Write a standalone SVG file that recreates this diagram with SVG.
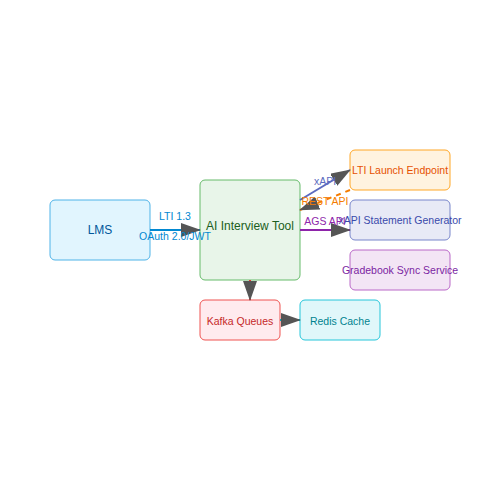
<svg xmlns="http://www.w3.org/2000/svg" width="500" height="500" viewBox="0 0 500 500">
<style>
text{font-family:"Liberation Sans",Arial,sans-serif;text-anchor:middle;dominant-baseline:central}
.n{stroke-width:1}
.e{fill:none;stroke-width:2}
.lbl{font-size:10.5px}
.s{font-size:10.5px}
.b{font-size:12px}
</style>
<defs>
<marker id="arr" markerWidth="10" markerHeight="7" refX="9.5" refY="3.5" orient="auto" markerUnits="strokeWidth">
<polygon points="0 0, 10 3.5, 0 7" fill="#555"/>
</marker>
</defs>
<rect width="500" height="500" fill="#fff"/>
<g id="lms">
<rect class="n" x="50" y="200" width="100" height="60" rx="5" fill="#e1f5fe" stroke="#4fb3e8"/>
<text class="b" x="100" y="230" fill="#01579b">LMS</text>
</g>
<g id="ai">
<rect class="n" x="200" y="180" width="100" height="100" rx="5" fill="#e8f5e9" stroke="#66bb6a"/>
<text class="b" x="250" y="226" fill="#1b5e20">AI Interview Tool</text>
</g>
<g id="lti">
<rect class="n" x="350" y="150" width="100" height="40" rx="5" fill="#fff3e0" stroke="#ffa726"/>
<text class="s" x="400" y="170" fill="#e65100">LTI Launch Endpoint</text>
</g>
<g id="xapi">
<rect class="n" x="350" y="200" width="100" height="40" rx="5" fill="#e8eaf6" stroke="#7986cb"/>
<text class="s" x="400" y="220" fill="#3949ab">xAPI Statement Generator</text>
</g>
<g id="gradebook">
<rect class="n" x="350" y="250" width="100" height="40" rx="5" fill="#f3e5f5" stroke="#ba68c8"/>
<text class="s" x="400" y="270" fill="#7b1fa2">Gradebook Sync Service</text>
</g>
<g id="kafka">
<rect class="n" x="200" y="300" width="80" height="40" rx="5" fill="#ffebee" stroke="#ef5350"/>
<text class="s" x="240" y="321" fill="#c62828">Kafka Queues</text>
</g>
<g id="redis">
<rect class="n" x="300" y="300" width="80" height="40" rx="5" fill="#e0f7fa" stroke="#26c6da"/>
<text class="s" x="340" y="321" fill="#00838f">Redis Cache</text>
</g>
<g id="connectors">
<line class="e" x1="150" y1="230" x2="200" y2="230" stroke="#0288d1" marker-end="url(#arr)"/>
<text class="lbl" x="175" y="216" fill="#0288d1">LTI 1.3</text>
<text class="lbl" x="175" y="236" fill="#0288d1">OAuth 2.0/JWT</text>
<line class="e" x1="300" y1="200" x2="350" y2="170" stroke="#5c6bc0" marker-end="url(#arr)"/>
<text class="lbl" x="325" y="181" fill="#5c6bc0">xAPI</text>
<line class="e" x1="350" y1="190" x2="300" y2="210" stroke="#f57c00" stroke-dasharray="5,5" marker-end="url(#arr)"/>
<text class="lbl" x="325" y="201" fill="#f57c00">REST API</text>
<line class="e" x1="300" y1="230" x2="350" y2="230" stroke="#8e24aa" marker-end="url(#arr)"/>
<text class="lbl" x="325" y="221" fill="#8e24aa">AGS API</text>
<line class="e" x1="250" y1="280" x2="250" y2="300" stroke="#e53935" marker-end="url(#arr)"/>
<line class="e" x1="280" y1="320" x2="300" y2="320" stroke="#00acc1" marker-end="url(#arr)"/>
</g>
</svg>
